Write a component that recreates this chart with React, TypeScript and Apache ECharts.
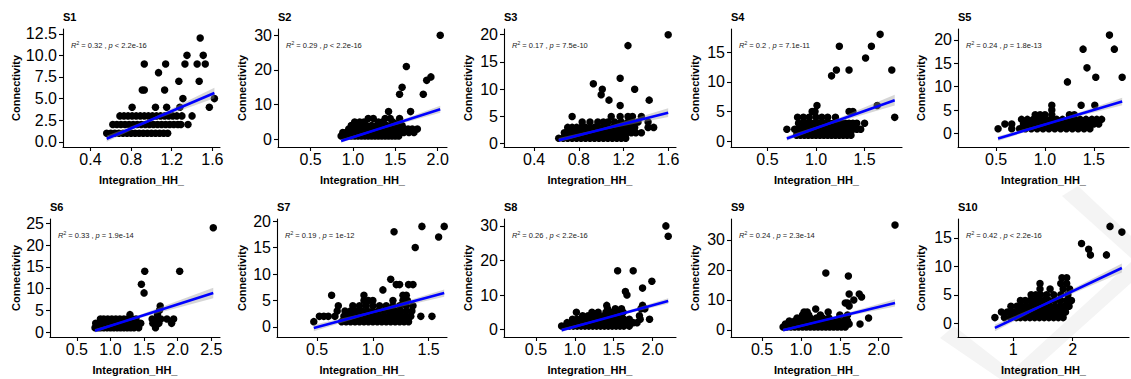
import React, { useEffect, useRef } from "react";
import * as echarts from "echarts";

const FF = "'Liberation Sans', Arial, Helvetica, sans-serif";

const PANEL_NAMES = ["S1", "S2", "S3", "S4", "S5", "S6", "S7", "S8", "S9", "S10"];
const R2_VALUES = ["0.32", "0.29", "0.17", "0.2", "0.24", "0.33", "0.19", "0.26", "0.24", "0.42"];
const P_OPS = ["<", "<", "=", "=", "=", "=", "=", "<", "=", "<"];
const P_VALUES = ["2.2e-16", "2.2e-16", "7.5e-10", "7.1e-11", "1.8e-13", "1.9e-14", "1e-12", "2.2e-16", "2.3e-14", "2.2e-16"];

// scatter points: [connectivity, list of integration values]
const S1_ROWS: [number, number[]][] = [
  [1, [0.56, 0.6, 0.64, 0.68, 0.72, 0.76, 0.8, 0.84, 0.88, 0.92, 0.96, 1.0, 1.04, 1.08, 1.12, 1.16]],
  [2, [0.62, 0.66, 0.7, 0.74, 0.78, 0.82, 0.86, 0.9, 0.94, 0.98, 1.02, 1.06, 1.1, 1.14, 1.18, 1.22, 1.26, 1.29, 1.36]],
  [3, [0.69, 0.73, 0.77, 0.81, 0.85, 0.89, 0.93, 0.97, 1.01, 1.05, 1.09, 1.13, 1.17, 1.21, 1.25, 1.3, 1.4]],
  [4, [0.81, 1.04, 1.15, 1.28, 1.57]],
  [5, [1.31, 1.62]],
  [6, [0.91, 0.93, 1.13]],
  [7, [1.27, 1.47]],
  [8, [1.07]],
  [9, [0.93, 1.14, 1.33, 1.45, 1.53]],
  [10, [1.35, 1.51]],
  [12, [1.48]],
];
const S2_ROWS: [number, number[]][] = [
  [1, [0.86, 0.9, 0.94, 0.98, 1.02, 1.06, 1.1, 1.14, 1.18, 1.22, 1.26, 1.3, 1.34, 1.38, 1.42, 1.46, 1.5, 1.54]],
  [2, [0.88, 0.92, 0.96, 1.0, 1.04, 1.08, 1.12, 1.16, 1.2, 1.24, 1.28, 1.32, 1.36, 1.4, 1.44, 1.48, 1.52, 1.56, 1.6, 1.66, 1.72]],
  [3, [0.95, 1.0, 1.05, 1.1, 1.15, 1.2, 1.25, 1.3, 1.35, 1.4, 1.45, 1.5, 1.55, 1.6, 1.65, 1.7, 1.76]],
  [4, [0.98, 1.04, 1.1, 1.16, 1.22, 1.28, 1.34, 1.4, 1.46, 1.52, 1.58]],
  [5, [1.02, 1.08, 1.13, 1.3, 1.35, 1.47, 1.55]],
  [6, [1.18, 1.24, 1.38, 1.44, 1.55]],
  [8, [1.42, 1.68]],
  [13, [1.55, 1.83]],
  [15, [1.58]],
  [17, [1.87]],
  [18, [1.92]],
  [21, [1.63]],
  [30, [2.03]],
];
const S3_ROWS: [number, number[]][] = [
  [1, [0.62, 0.66, 0.7, 0.74, 0.78, 0.82, 0.86, 0.9, 0.94, 0.98, 1.02, 1.06, 1.1, 1.14, 1.18, 1.22]],
  [2, [0.67, 0.71, 0.75, 0.79, 0.83, 0.87, 0.91, 0.95, 0.99, 1.03, 1.07, 1.11, 1.15, 1.19, 1.23, 1.27, 1.31, 1.36]],
  [3, [0.7, 0.74, 0.78, 0.82, 0.86, 0.9, 0.94, 0.98, 1.02, 1.06, 1.1, 1.14, 1.18, 1.22, 1.26, 1.3, 1.42, 1.47]],
  [4, [0.83, 0.9, 0.97, 1.02, 1.06, 1.12, 1.18, 1.24, 1.28, 1.33, 1.42]],
  [5, [0.74, 1.09, 1.17, 1.24, 1.28, 1.36]],
  [7, [1.17]],
  [8, [1.07, 1.43]],
  [9, [1.0]],
  [10, [1.01, 1.3]],
  [11, [0.93]],
  [12, [1.17]],
  [18, [1.24]],
  [20, [1.6]],
];
const S4_ROWS: [number, number[]][] = [
  [1, [0.8, 0.84, 0.88, 0.92, 0.96, 1.0, 1.04, 1.08, 1.12, 1.16, 1.2, 1.24, 1.28, 1.32, 1.36]],
  [2, [0.7, 0.78, 0.82, 0.86, 0.9, 0.94, 0.98, 1.02, 1.06, 1.1, 1.14, 1.18, 1.22, 1.26, 1.3, 1.34, 1.38, 1.42, 1.46]],
  [3, [0.82, 0.86, 0.9, 0.94, 0.98, 1.02, 1.06, 1.1, 1.14, 1.18, 1.22, 1.26, 1.3, 1.34, 1.38, 1.42, 1.5]],
  [4, [0.81, 0.87, 0.93, 1.0, 1.06, 1.12, 1.2, 1.81]],
  [5, [0.96, 0.99, 1.34, 1.38]],
  [6, [1.01, 1.63]],
  [11, [1.16]],
  [12, [1.21, 1.34, 1.78]],
  [14, [1.51]],
  [16, [1.24, 1.57]],
  [18, [1.66]],
];
const S5_ROWS: [number, number[]][] = [
  [1, [0.52, 0.66, 0.74, 0.8, 0.86, 0.92, 0.98, 1.04, 1.1, 1.16, 1.22, 1.28, 1.34, 1.4, 1.46]],
  [2, [0.59, 0.66, 0.78, 0.84, 0.9, 0.96, 1.02, 1.08, 1.14, 1.2, 1.26, 1.32, 1.38, 1.44, 1.5, 1.55]],
  [3, [0.76, 0.82, 0.88, 0.94, 1.0, 1.06, 1.12, 1.18, 1.24, 1.3, 1.36, 1.42, 1.48, 1.53, 1.58]],
  [4, [0.9, 0.95, 1.0, 1.07, 1.25, 1.3]],
  [5, [1.07]],
  [6, [1.07, 1.37, 1.51]],
  [11, [1.23]],
  [12, [1.52, 1.79]],
  [14, [1.43]],
  [18, [1.39, 1.71]],
  [21, [1.66]],
];
const S6_ROWS: [number, number[]][] = [
  [1, [0.77, 0.81, 0.85, 0.9, 0.95, 1.0, 1.05, 1.1, 1.15, 1.2, 1.25, 1.3, 1.35, 1.42, 1.67]],
  [2, [0.78, 0.83, 0.88, 0.93, 0.98, 1.03, 1.08, 1.13, 1.18, 1.23, 1.28, 1.33, 1.38, 1.45, 1.63, 1.72, 1.91]],
  [3, [0.85, 0.9, 0.96, 1.02, 1.08, 1.14, 1.2, 1.26, 1.32, 1.38, 1.62, 1.7, 1.75, 1.84, 1.94]],
  [4, [1.29, 1.7]],
  [5, [1.73]],
  [6, [1.74]],
  [9, [1.5]],
  [11, [1.46]],
  [14, [1.51, 2.03]],
  [24, [2.53]],
];
const S7_ROWS: [number, number[]][] = [
  [1, [0.47, 0.72, 0.76, 0.8, 0.84, 0.88, 0.92, 0.96, 1.0, 1.04, 1.08, 1.12, 1.16, 1.2, 1.24, 1.28, 1.32]],
  [2, [0.52, 0.56, 0.6, 0.66, 0.74, 0.78, 0.82, 0.86, 0.9, 0.94, 0.98, 1.02, 1.06, 1.1, 1.14, 1.18, 1.22, 1.26, 1.3, 1.34, 1.43, 1.53]],
  [3, [0.68, 0.75, 0.8, 0.85, 0.9, 0.95, 1.0, 1.05, 1.1, 1.15, 1.2, 1.25, 1.3, 1.35]],
  [4, [0.69, 0.82, 0.88, 0.94, 1.0, 1.06, 1.12, 1.18, 1.24, 1.3, 1.36]],
  [5, [0.92, 0.96, 1.0, 1.18, 1.27, 1.31]],
  [6, [0.63, 0.92, 1.27, 1.3]],
  [7, [1.09]],
  [8, [1.21, 1.24, 1.32, 1.36]],
  [9, [1.16]],
  [15, [1.38]],
  [17, [1.59]],
  [18, [1.19]],
  [19, [1.44, 1.64]],
];
const S8_ROWS: [number, number[]][] = [
  [1, [0.83, 0.88, 0.93, 0.98, 1.03, 1.08, 1.13, 1.18, 1.23, 1.28, 1.33, 1.38, 1.43, 1.48, 1.53, 1.58, 1.63, 1.7]],
  [2, [0.9, 0.95, 1.0, 1.05, 1.1, 1.15, 1.2, 1.25, 1.3, 1.35, 1.4, 1.45, 1.5, 1.55, 1.6, 1.65, 1.7, 1.75, 1.8]],
  [3, [0.97, 1.03, 1.09, 1.15, 1.21, 1.27, 1.33, 1.39, 1.45, 1.51, 1.57, 1.63, 1.7, 1.84, 1.96]],
  [4, [1.1, 1.17, 1.24, 1.31, 1.38, 1.45, 1.52, 1.6, 1.83]],
  [5, [1.02, 1.22, 1.3, 1.4, 1.48, 1.55, 1.62]],
  [6, [1.42, 1.52, 1.6, 1.85, 1.9]],
  [7, [1.41, 1.87]],
  [10, [1.67]],
  [11, [1.65]],
  [12, [1.87]],
  [14, [1.99]],
  [17, [1.55, 1.75]],
  [27, [2.2]],
  [30, [2.17]],
];
const S9_ROWS: [number, number[]][] = [
  [1, [0.77, 0.82, 0.87, 0.92, 0.97, 1.02, 1.07, 1.12, 1.17, 1.22, 1.27, 1.32, 1.37, 1.42, 1.47, 1.52, 1.57]],
  [2, [0.8, 0.86, 0.92, 0.98, 1.04, 1.1, 1.16, 1.22, 1.28, 1.34, 1.4, 1.46, 1.52, 1.58, 1.62, 1.76]],
  [3, [0.85, 0.92, 0.99, 1.06, 1.13, 1.2, 1.27, 1.34, 1.41, 1.48, 1.55, 1.6]],
  [4, [0.95, 1.04, 1.12, 1.2, 1.28, 1.36, 1.58, 1.87]],
  [5, [1.02, 1.1, 1.25, 1.5, 1.6]],
  [6, [1.04, 1.08, 1.35]],
  [7, [1.19]],
  [8, [1.62]],
  [9, [1.57, 1.6]],
  [10, [1.68]],
  [11, [1.78]],
  [12, [1.62, 1.75]],
  [18, [1.61]],
  [19, [1.32]],
  [35, [2.21]],
];
const S10_ROWS: [number, number[]][] = [
  [1, [0.69, 0.85, 0.95, 1.05, 1.12, 1.2, 1.28, 1.36, 1.44, 1.52, 1.6, 1.68, 1.76, 1.84]],
  [2, [0.8, 0.9, 1.0, 1.08, 1.16, 1.24, 1.32, 1.4, 1.48, 1.56, 1.64, 1.72, 1.8, 1.88]],
  [3, [0.96, 1.06, 1.14, 1.22, 1.3, 1.38, 1.46, 1.54, 1.62, 1.7, 1.78, 1.86, 1.94]],
  [4, [1.12, 1.2, 1.28, 1.36, 1.44, 1.52, 1.6, 1.7, 1.8, 1.9, 1.98]],
  [5, [1.3, 1.38, 1.46, 1.56, 1.68, 1.8, 1.92]],
  [6, [1.45, 1.62, 1.84, 1.95]],
  [7, [1.45, 1.8, 1.9]],
  [8, [1.82, 1.9]],
  [12, [2.3, 2.57]],
  [13, [2.27]],
  [14, [2.15]],
  [16, [2.83]],
  [17, [2.63]],
];
const ALL_ROWS = [S1_ROWS, S2_ROWS, S3_ROWS, S4_ROWS, S5_ROWS, S6_ROWS, S7_ROWS, S8_ROWS, S9_ROWS, S10_ROWS];

// regression line: [xStart, yStart, xEnd, yEnd]
const FIT_LINES = [
  [0.56, 0.35, 1.62, 5.65],
  [0.86, -0.45, 2.03, 8.65],
  [0.62, 0.65, 1.6, 5.7],
  [0.7, 0.45, 1.81, 6.9],
  [0.52, -1.1, 1.79, 6.8],
  [0.77, 0.3, 2.53, 9.0],
  [0.47, -0.2, 1.64, 6.4],
  [0.83, -0.2, 2.2, 8.3],
  [0.77, -0.1, 2.21, 9.0],
  [0.69, -0.8, 2.83, 9.7],
];
// confidence band: [xMid, halfStart, halfMid, halfEnd]
const FIT_BANDS = [
  [1.0, 0.35, 0.15, 0.6],
  [1.3, 0.5, 0.25, 1.0],
  [1.0, 0.4, 0.2, 0.8],
  [1.1, 0.4, 0.2, 0.9],
  [1.1, 0.5, 0.2, 0.8],
  [1.2, 0.4, 0.2, 1.2],
  [1.0, 0.6, 0.2, 0.7],
  [1.4, 0.5, 0.2, 0.8],
  [1.3, 0.5, 0.25, 1.2],
  [1.5, 0.6, 0.2, 0.8],
];

const X_RANGES = [
  [0.13, 1.675], [0.115, 2.11], [0.13, 1.67], [0.125, 1.885], [0.11, 1.86],
  [0.1, 2.63], [0.14, 1.665], [0.09, 2.3], [0.1, 2.3], [0.068, 2.95],
];
const Y_RANGES = [
  [-0.6, 13.05], [-2.2, 31.8], [-0.6, 21.05], [-1.0, 18.9], [-2.9, 22.3],
  [-1.14, 26.0], [-1.9, 20.4], [-2.15, 32.0], [-2.35, 37.0], [-2.4, 18.3],
];
const X_TICKS = [
  [0.4, 0.8, 1.2, 1.6], [0.5, 1.0, 1.5, 2.0], [0.4, 0.8, 1.2, 1.6], [0.5, 1.0, 1.5], [0.5, 1.0, 1.5],
  [0.5, 1.0, 1.5, 2.0, 2.5], [0.5, 1.0, 1.5], [0.5, 1.0, 1.5, 2.0], [0.5, 1.0, 1.5, 2.0], [1, 2],
];
const Y_TICKS = [
  [0, 2.5, 5, 7.5, 10, 12.5], [0, 10, 20, 30], [0, 5, 10, 15, 20], [0, 5, 10, 15], [0, 5, 10, 15, 20],
  [0, 5, 10, 15, 20, 25], [0, 5, 10, 15, 20], [0, 10, 20, 30], [0, 10, 20, 30], [0, 5, 10, 15],
];
const X_DECIMALS = [1, 1, 1, 1, 1, 1, 1, 1, 1, 0];
const Y_DECIMALS = [1, 0, 0, 0, 0, 0, 0, 0, 0, 0];

const X_TITLE = "Integration_HH_";
const Y_TITLE = "Connectivity";

// layout (pixels)
const COL_LEFTS = [[63, 278, 504, 731, 958], [50, 277, 504, 731, 958]];
const COL_RIGHTS = [220, 447, 676, 902, 1129];
const ROW_TOPS = [29, 219];
const ROW_BOTTOMS = [147, 337];
const CELL_LEFTS = [0, 226, 452, 679, 905];

// faint background watermark stripes (pixel polygons)
const WATERMARK = [
  [[1003, 379], [1024, 379], [1131, 283], [1131, 262]],
  [[1062, 196], [1078, 186], [1131, 236], [1131, 258]],
  [[940, 338], [954, 326], [1022, 379], [1000, 379]],
];

export default function App() {
  const ref = useRef<HTMLDivElement>(null);
  useEffect(() => {
    if (!ref.current) return;
    const chart = echarts.init(ref.current, null, { renderer: "svg" });
    const grid: any[] = [];
    const xAxis: any[] = [];
    const yAxis: any[] = [];
    const series: any[] = [];
    const graphic: any[] = [];

    WATERMARK.forEach((poly) => {
      graphic.push({ type: "polygon", shape: { points: poly }, style: { fill: "#f4f4f4" }, z: -10, silent: true });
    });

    for (let i = 0; i < 10; i++) {
      const row = i < 5 ? 0 : 1;
      const col = i % 5;
      const left = COL_LEFTS[row][col];
      const right = COL_RIGHTS[col];
      const top = ROW_TOPS[row];
      const bottom = ROW_BOTTOMS[row];
      grid.push({ left, top, width: right - left, height: bottom - top, containLabel: false });
      const xd = X_DECIMALS[i];
      const yd = Y_DECIMALS[i];
      xAxis.push({
        type: "value",
        gridIndex: i,
        min: X_RANGES[i][0],
        max: X_RANGES[i][1],
        axisLine: { show: true, onZero: false, lineStyle: { color: "#000", width: 1.1 } },
        axisTick: { show: true, length: 4, customValues: X_TICKS[i], lineStyle: { color: "#000", width: 1.1 } },
        axisLabel: {
          customValues: X_TICKS[i],
          formatter: (v: number) => v.toFixed(xd),
          fontSize: 16,
          fontFamily: FF,
          color: "#000",
          margin: 4,
        },
        splitLine: { show: false },
      });
      yAxis.push({
        type: "value",
        gridIndex: i,
        min: Y_RANGES[i][0],
        max: Y_RANGES[i][1],
        axisLine: { show: true, onZero: false, lineStyle: { color: "#000", width: 1.1 } },
        axisTick: { show: true, length: 4, customValues: Y_TICKS[i], lineStyle: { color: "#000", width: 1.1 } },
        axisLabel: {
          customValues: Y_TICKS[i],
          formatter: (v: number) => v.toFixed(yd),
          fontSize: 16,
          fontFamily: FF,
          color: "#000",
          margin: 6,
        },
        splitLine: { show: false },
      });

      const pts: number[][] = [];
      ALL_ROWS[i].forEach(([y, xs]) => xs.forEach((x) => pts.push([x, y])));
      series.push({
        type: "scatter",
        xAxisIndex: i,
        yAxisIndex: i,
        data: pts,
        symbolSize: 7.5,
        itemStyle: { color: "#000", opacity: 1 },
        z: 2,
        silent: true,
      });
      const f = FIT_LINES[i];
      const b = FIT_BANDS[i];
      series.push({
        type: "custom",
        xAxisIndex: i,
        yAxisIndex: i,
        dimensions: ["xs", "ys", "xe", "ye", "xm", "hs", "hm", "he"],
        encode: { x: 0, y: 1 },
        data: [[f[0], f[1], f[2], f[3], b[0], b[1], b[2], b[3]]],
        z: 3,
        silent: true,
        renderItem: (params: any, api: any) => {
          const xs = api.value(0), ys = api.value(1), xe = api.value(2), ye = api.value(3);
          const xm = api.value(4), hs = api.value(5), hm = api.value(6), he = api.value(7);
          const ym = ys + ((ye - ys) / (xe - xs)) * (xm - xs);
          const p = [
            [xs, ys - hs], [xm, ym - hm], [xe, ye - he],
            [xe, ye + he], [xm, ym + hm], [xs, ys + hs],
          ].map((q) => api.coord(q));
          return { type: "polygon", shape: { points: p }, style: { fill: "rgba(153,153,153,0.4)" } };
        },
      });
      series.push({
        type: "line",
        xAxisIndex: i,
        yAxisIndex: i,
        data: [[f[0], f[1]], [f[2], f[3]]],
        symbol: "none",
        lineStyle: { color: "#0000ff", width: 2.6 },
        z: 4,
        silent: true,
      });

      // panel title
      graphic.push({
        type: "text",
        x: left,
        y: top - 12,
        style: { text: PANEL_NAMES[i], font: `bold 11px ${FF}`, fill: "#000", textAlign: "left", textVerticalAlign: "middle" },
      });
      // stats annotation
      graphic.push({
        type: "text",
        x: left + 8,
        y: top + 16,
        style: {
          text: `{it|R}{sup|2}{n| = ${R2_VALUES[i]} , }{it|p}{n| ${P_OPS[i]} ${P_VALUES[i]}}`,
          rich: {
            it: { fontStyle: "italic", fontSize: 7.5, fontFamily: FF, fill: "#222" },
            sup: { fontSize: 5, fontFamily: FF, fill: "#222", padding: [0, 0, 5, 0] },
            n: { fontSize: 7.5, fontFamily: FF, fill: "#222" },
          },
          textAlign: "left",
          textVerticalAlign: "middle",
        },
      });
      // y title
      graphic.push({
        type: "text",
        x: CELL_LEFTS[col] + 16,
        y: (top + bottom) / 2,
        rotation: Math.PI / 2,
        style: { text: Y_TITLE, font: `bold 11px ${FF}`, fill: "#000", textAlign: "center", textVerticalAlign: "middle" },
      });
      // x title
      graphic.push({
        type: "text",
        x: (left + right) / 2,
        y: bottom + 33,
        style: { text: X_TITLE, font: `bold 11px ${FF}`, fill: "#000", textAlign: "center", textVerticalAlign: "middle" },
      });
    }

    chart.setOption({
      animation: false,
      backgroundColor: "#fff",
      grid,
      xAxis,
      yAxis,
      series,
      graphic,
    });
    return () => chart.dispose();
  }, []);
  return (
    <div
      ref={ref}
      style={{ position: "fixed", left: 0, top: 0, width: 1131, height: 379, background: "#fff" }}
    />
  );
}
